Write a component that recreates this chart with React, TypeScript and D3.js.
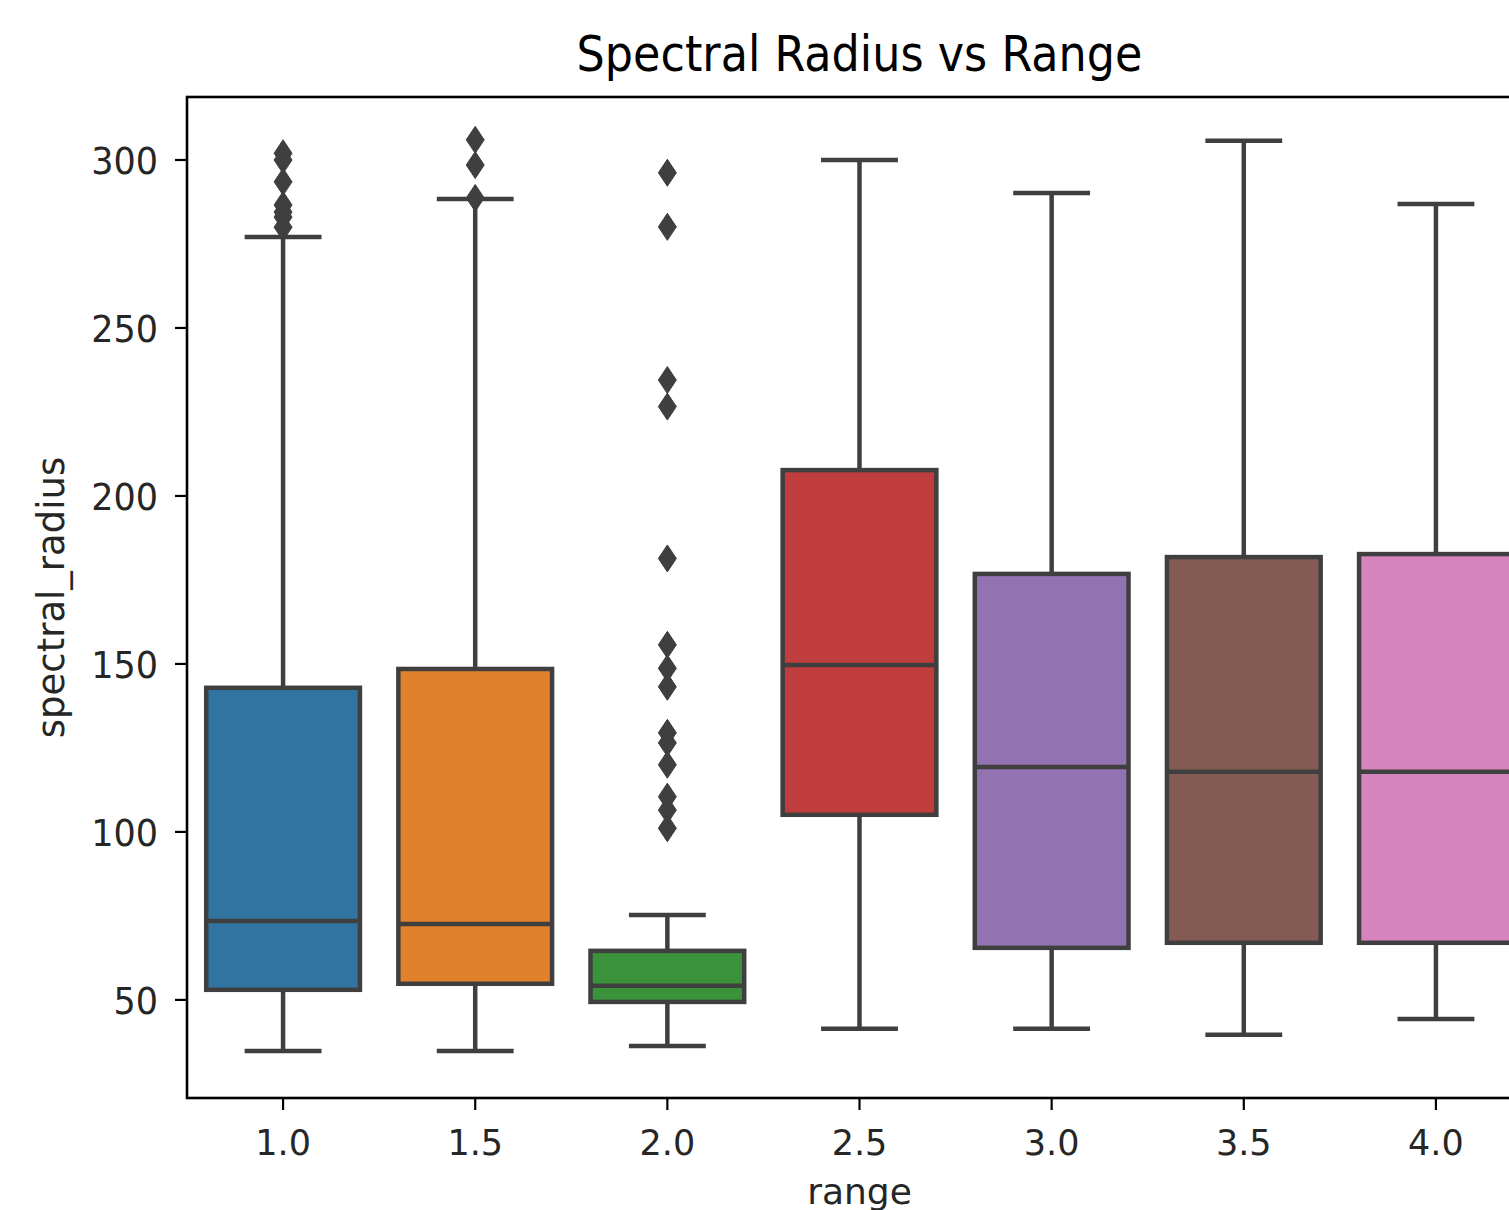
import * as d3 from 'd3';
import React from 'react';

/* Spectral radius per range, seaborn-style boxplot
 * boxes are given as precomputed stats (q1, median, q3, whiskers) + fliers
 */
const categories = ['1.0', '1.5', '2.0', '2.5', '3.0', '3.5', '4.0'];
const q1 = [53, 54.8, 49.4, 105.1, 65.5, 67, 67];
const medians = [73.5, 72.6, 54.2, 149.7, 119.3, 117.9, 117.9];
const q3 = [142.9, 148.5, 64.6, 207.7, 176.8, 181.8, 182.7];
const whiskerLow = [34.8, 34.8, 36.3, 41.4, 41.4, 39.6, 44.3];
const whiskerHigh = [277.1, 288.4, 75.3, 300, 290.2, 305.7, 286.9];
const fliers = [
  [302, 300, 293.5, 286.6, 284.5, 283, 280],
  [306, 298.5, 288.7],
  [296.2, 280.1, 234.5, 226.6, 181.4, 155.7, 148.7, 143.2, 129.5, 126.5, 120, 110.5, 106.5, 101.1],
  [], [], [], [],
];
const colors = ['#3274a1', '#e1812c', '#3a923a', '#c03d3e', '#9372b2', '#845b53', '#d684bd'];
const yTicks = [50, 100, 150, 200, 250, 300];

const params = {
  width: 1509,
  height: 1210,
  left: 187,
  top: 97,
  bottom: 1098,
  right: 1532, // axis runs past the picture edge
};

const edge = '#3f3f3f';
const font = '"DejaVu Sans", sans-serif';

export default function App() {
  const x = d3.scaleBand().domain(categories).range([params.left, params.right]).padding(0);
  const y = d3.scaleLinear().domain([20.8, 318.75]).range([params.bottom, params.top]);
  const bw = x.bandwidth();
  const boxW = bw * 0.8;
  const capW = boxW / 2;

  const diamond = (cx: number, cy: number) =>
    `M${cx},${cy - 13.5} L${cx + 9},${cy} L${cx},${cy + 13.5} L${cx - 9},${cy} Z`;

  const boxes = categories.map((c, i) => {
    const cx = (x(c) as number) + bw / 2;
    return (
      <g key={c}>
        <line x1={cx} x2={cx} y1={y(q1[i])} y2={y(whiskerLow[i])} stroke={edge} strokeWidth={4.5} />
        <line x1={cx} x2={cx} y1={y(q3[i])} y2={y(whiskerHigh[i])} stroke={edge} strokeWidth={4.5} />
        <line x1={cx - capW / 2} x2={cx + capW / 2} y1={y(whiskerLow[i])} y2={y(whiskerLow[i])} stroke={edge} strokeWidth={4.5} />
        <line x1={cx - capW / 2} x2={cx + capW / 2} y1={y(whiskerHigh[i])} y2={y(whiskerHigh[i])} stroke={edge} strokeWidth={4.5} />
        <rect x={cx - boxW / 2} y={y(q3[i])} width={boxW} height={y(q1[i]) - y(q3[i])}
          fill={colors[i]} stroke={edge} strokeWidth={4.5} />
        <line x1={cx - boxW / 2} x2={cx + boxW / 2} y1={y(medians[i])} y2={y(medians[i])} stroke={edge} strokeWidth={4.5} />
        {fliers[i].map((v, j) => (
          <path key={j} d={diamond(cx, y(v))} fill={edge} stroke={edge} strokeWidth={1} />
        ))}
      </g>
    );
  });

  return (
    <div style={{ position: 'absolute', left: 0, top: 0 }}>
      <svg width={params.width} height={params.height} style={{ display: 'block', background: '#fff' }}>
        <rect x={0} y={0} width={params.width} height={params.height} fill="#fff" />
        {boxes}
        <rect x={params.left} y={params.top} width={params.right - params.left} height={params.bottom - params.top}
          fill="none" stroke="#000" strokeWidth={2.6} />
        {yTicks.map(t => (
          <g key={t} transform={`translate(${params.left},${y(t)})`}>
            <line x1={-12} x2={0} stroke="#000" strokeWidth={2.2} />
            <text x={-29} dy="0.38em" textAnchor="end" fontFamily={font} fontSize={35} fill="#262626"
              transform="scale(1,1.06)">{t}</text>
          </g>
        ))}
        {categories.map(c => (
          <g key={c} transform={`translate(${(x(c) as number) + bw / 2},${params.bottom})`}>
            <line y1={0} y2={12} stroke="#000" strokeWidth={2.2} />
            <text y={57} textAnchor="middle" fontFamily={font} fontSize={35} fill="#262626">{c}</text>
          </g>
        ))}
        <text x={(params.left + params.right) / 2} y={1204} textAnchor="middle" fontFamily={font} fontSize={36} fill="#262626">range</text>
        <text transform={`translate(64,${(params.top + params.bottom) / 2}) rotate(-90)`} textAnchor="middle"
          fontFamily={font} fontSize={37} fill="#262626">spectral_radius</text>
        <g transform={`translate(${(params.left + params.right) / 2},71) scale(1,1.1)`}>
          <text textAnchor="middle" fontFamily={font} fontSize={44.5} fill="#000">
            Spectral Radius vs Range
          </text>
        </g>
      </svg>
    </div>
  );
}
